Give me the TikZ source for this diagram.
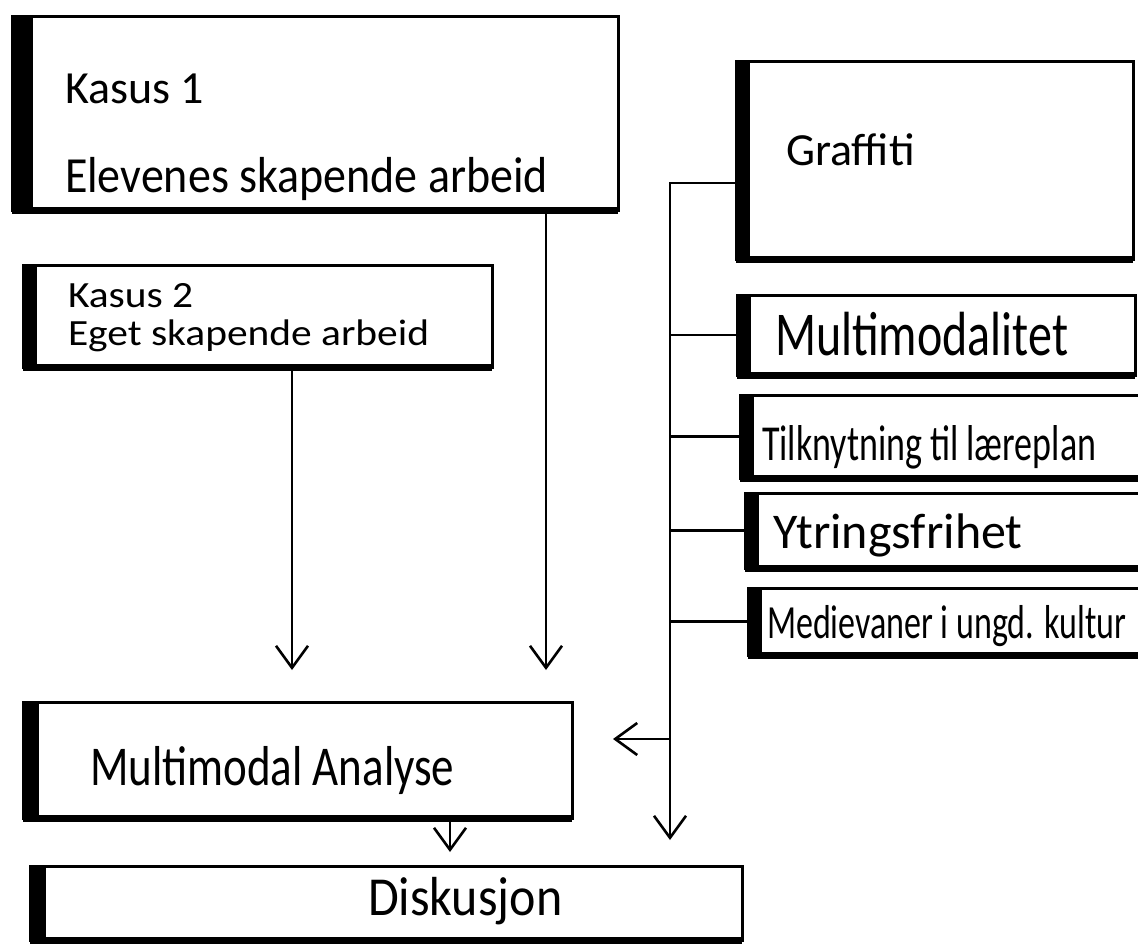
\documentclass[tikz,border=0pt]{standalone}
\usepackage{fontspec}
\setmainfont{Carlito}
\usetikzlibrary{arrows.meta,calc}
\newcommand\hfs[1]{\fontsize{#1}{#1}\selectfont}
\newcommand\tallt[2]{\scalebox{1}[#1]{#2}}
\newcommand\widet[2]{\scalebox{#1}[1]{#2}}
\begin{document}
\begin{tikzpicture}[x=1pt,y=-1pt,
  box/.style={draw, line width=3pt, rectangle, anchor=north west, inner sep=0pt, outer sep=0pt},
  lbl/.style={anchor=base west, inner sep=0pt, outer sep=0pt},
  conn/.style={line width=2.6pt},
  arr/.style={conn, -{Straight Barb[length=22pt,width=32pt]}}
]
\fill[white] (0,0) rectangle (1138,948);
\useasboundingbox (0,0) rectangle (1138,948);

% boxes
\node[box, minimum width=606pt, minimum height=194pt] (k1) at (12,16) {};
\node[box, minimum width=469pt, minimum height=102pt] (k2) at (23,265) {};
\node[box, minimum width=397pt, minimum height=198pt] (gr) at (736,61) {};
\node[box, minimum width=398pt, minimum height=80pt] (mm) at (737,295) {};
\node[box, minimum width=405pt, minimum height=83pt] (tk) at (740,395) {};
\node[box, minimum width=400pt, minimum height=75pt] (yf) at (745,493) {};
\node[box, minimum width=397pt, minimum height=67pt] (mv) at (748,588) {};
\node[box, minimum width=549pt, minimum height=116pt] (ma) at (23,702) {};
\node[box, minimum width=712pt, minimum height=74pt] (di) at (30,866) {};

% heavy left and bottom edges
\foreach \n/\t in {k1/21,k2/14,gr/14,mm/14,tk/14,yf/14,mv/14,ma/16,di/16} {
  \fill (\n.north west) rectangle ([xshift=\t pt]\n.south west);
  \draw[line width=7pt] (\n.south west) -- (\n.south east);
}

% labels
\node[lbl, font=\hfs{46}] (k1a) at (65,103) {Kasus 1};
\node[lbl, font=\hfs{46}] (k1b) at (65,192) {\tallt{1.1}{Elevenes skapende arbeid}};
\node[lbl, font=\hfs{37}] (k2a) at (68,307) {\widet{1.12}{Kasus 2}};
\node[lbl, font=\hfs{37}] (k2b) at (68,345) {\widet{1.12}{Eget skapende arbeid}};
\node[lbl, font=\hfs{46}] (grt) at (786,165) {Graffiti};
\node[lbl, font=\hfs{48}] (mmt) at (775,355) {\tallt{1.3}{Multimodalitet}};
\node[lbl, font=\hfs{36}] (tkt) at (762,460) {\tallt{1.4}{Tilknytning til læreplan}};
\node[lbl, font=\hfs{50}] (yft) at (773,548) {Ytringsfrihet};
\node[lbl, font=\hfs{34}] (mvt) at (767,638) {\tallt{1.4}{Medievaner i ungd. kultur}};
\node[lbl, font=\hfs{45}] (mat) at (90,785) {\tallt{1.25}{Multimodal Analyse}};
\node[lbl, font=\hfs{50}] (dit) at (368,915) {\tallt{1.1}{Diskusjon}};

% connectors
\coordinate (k1end) at (546,670);
\coordinate (k2end) at (292,670);
\draw[arr] (k1.south -| k1end) -- (k1end);
\draw[arr] (k2.south -| k2end) -- (k2end);

\coordinate (ttop) at (670,183);
\coordinate (tend) at (670,840);
\draw[arr] (gr.west |- ttop) -- (ttop) -- (tend);
\foreach \n in {mm,tk,yf,mv} \draw[conn] (ttop |- \n.west) -- (\n.west);

\coordinate (matip) at (613,739);
\draw[arr] (ttop |- matip) -- (matip);

\coordinate (maend) at (450,852);
\draw[arr] (ma.south -| maend) -- (maend);
\end{tikzpicture}
\end{document}
